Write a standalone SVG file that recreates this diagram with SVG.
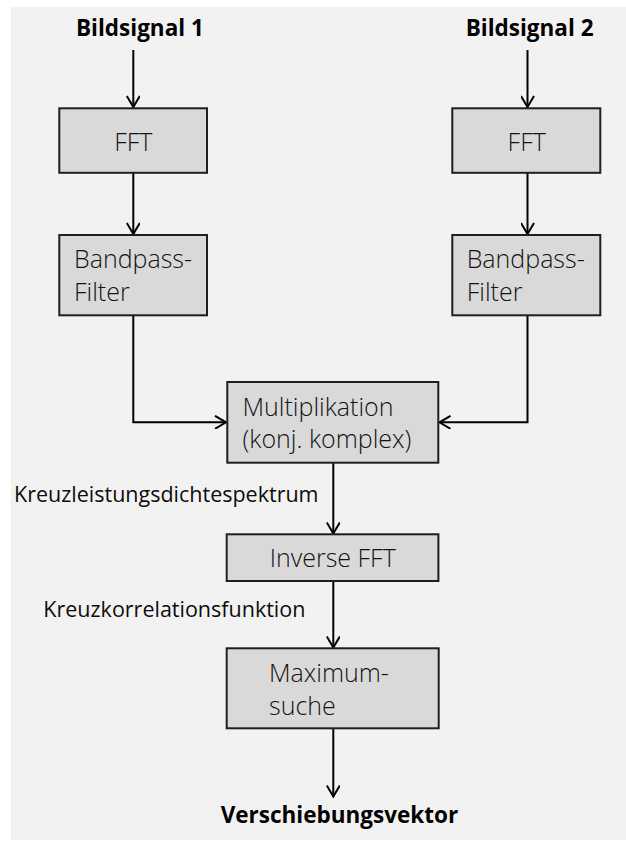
<svg xmlns="http://www.w3.org/2000/svg" width="626" height="841" viewBox="0 0 626 841">
  <style>
    .panel { fill: #f2f2f2; }
    .box { fill: #d9d9d9; stroke: #1f1f1f; stroke-width: 2; }
    .box-text { font-family: "Open Sans", "Noto Sans", "Liberation Sans", sans-serif; font-size: 25px; font-weight: 350; fill: #141414; }
    .label { font-family: "Open Sans", "Noto Sans", "Liberation Sans", sans-serif; font-size: 21.5px; font-weight: 400; fill: #0d0d0d; }
    .io { font-family: "Open Sans", "Noto Sans", "Liberation Sans", sans-serif; font-size: 22.5px; font-weight: 700; fill: #000000; }
    .mid { text-anchor: middle; }
    .wire { fill: none; stroke: #000000; stroke-width: 2; marker-end: url(#chevron); }
  </style>
  <defs>
    <marker id="chevron" viewBox="0 0 14 14" refX="12" refY="7" markerWidth="14" markerHeight="14" markerUnits="userSpaceOnUse" orient="auto">
      <path d="M1,0.5 L12,7 L1,13.5" fill="none" stroke="#000000" stroke-width="2"/>
    </marker>
  </defs>

  <!-- background panel -->
  <rect class="panel" x="11" y="7" width="615" height="833"/>

  <!-- connectors -->
  <g id="connectors">
    <path class="wire" d="M133.3,50 V107"/>
    <path class="wire" d="M527.5,50 V107"/>
    <path class="wire" d="M133.3,173 V234"/>
    <path class="wire" d="M527.5,173 V234"/>
    <path class="wire" d="M133.3,315 V422.3 H226"/>
    <path class="wire" d="M527.5,315 V422.3 H439.5"/>
    <path class="wire" d="M333.3,463 V533.5"/>
    <path class="wire" d="M333.3,581 V647.5"/>
    <path class="wire" d="M333.3,728.5 V796.5"/>
  </g>

  <!-- inputs -->
  <g id="input1">
    <text class="io" x="76" y="36">Bildsignal 1</text>
  </g>
  <g id="input2">
    <text class="io" x="465.7" y="36">Bildsignal 2</text>
  </g>

  <!-- left branch -->
  <g id="fft1">
    <rect class="box" x="59.3" y="108.3" width="147.7" height="64.5"/>
    <text class="box-text mid" x="133.3" y="151">FFT</text>
  </g>
  <g id="bandpass1">
    <rect class="box" x="59.3" y="235" width="147.7" height="80.3"/>
    <text class="box-text" x="74" y="267.7">Bandpass-</text>
    <text class="box-text" x="74" y="301">Filter</text>
  </g>

  <!-- right branch -->
  <g id="fft2">
    <rect class="box" x="452.3" y="108.3" width="148" height="64.5"/>
    <text class="box-text mid" x="526.7" y="151">FFT</text>
  </g>
  <g id="bandpass2">
    <rect class="box" x="452.3" y="235" width="148" height="80.3"/>
    <text class="box-text" x="466.7" y="267.7">Bandpass-</text>
    <text class="box-text" x="466.7" y="301">Filter</text>
  </g>

  <!-- central chain -->
  <g id="multiplication">
    <rect class="box" x="227.3" y="382" width="211" height="80.7"/>
    <text class="box-text" x="242.5" y="415.7">Multiplikation</text>
    <text class="box-text" x="242.5" y="448.3">(konj. komplex)</text>
  </g>
  <g id="cross-power-label">
    <text class="label" x="14" y="501.7">Kreuzleistungsdichtespektrum</text>
  </g>
  <g id="inverse-fft">
    <rect class="box" x="226.7" y="534.3" width="211.7" height="46.7"/>
    <text class="box-text mid" x="332.7" y="566.7">Inverse FFT</text>
  </g>
  <g id="cross-correlation-label">
    <text class="label" x="43.3" y="616.7">Kreuzkorrelationsfunktion</text>
  </g>
  <g id="max-search">
    <rect class="box" x="226.7" y="648.3" width="212" height="80"/>
    <text class="box-text" x="269" y="681.5">Maximum-</text>
    <text class="box-text" x="269" y="714.5">suche</text>
  </g>

  <!-- output -->
  <g id="output">
    <text class="io" x="220.7" y="823">Verschiebungsvektor</text>
  </g>
</svg>
